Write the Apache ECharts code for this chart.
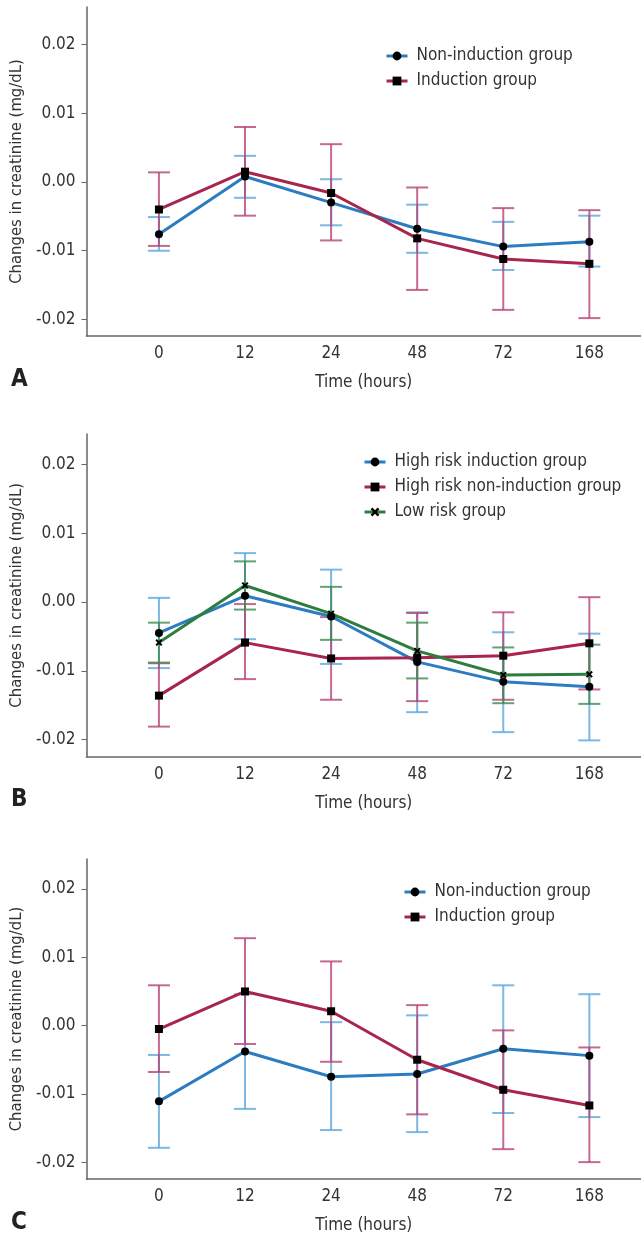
<!DOCTYPE html>
<html><head><meta charset="utf-8">
<script src="https://cdn.jsdelivr.net/npm/echarts@6/dist/echarts.min.js"></script>
<style>html,body{margin:0;padding:0;background:#fff}#c{width:641px;height:1235px}</style>
</head><body><div id="c"></div>
<script>
// ---- data ----
const hours = ['0', '12', '24', '48', '72', '168'];
const yTicks = [-0.02, -0.01, 0, 0.01, 0.02];

// Panel A
const aNonMean = [-0.0076, 0.0008, -0.0030, -0.0068, -0.0094, -0.0087];
const aNonLow  = [-0.0100, -0.0023, -0.0063, -0.0103, -0.0128, -0.0123];
const aNonHigh = [-0.0051, 0.0038, 0.0004, -0.0033, -0.0058, -0.0049];
const aIndMean = [-0.0040, 0.0015, -0.0016, -0.0082, -0.0112, -0.0119];
const aIndLow  = [-0.0093, -0.0049, -0.0085, -0.0157, -0.0186, -0.0198];
const aIndHigh = [0.0014, 0.0080, 0.0055, -0.0008, -0.0038, -0.0041];

// Panel B
const bHiIndMean = [-0.0045, 0.0009, -0.0021, -0.0087, -0.0116, -0.0123];
const bHiIndLow  = [-0.0096, -0.0054, -0.0090, -0.0160, -0.0189, -0.0201];
const bHiIndHigh = [0.0006, 0.0071, 0.0047, -0.0015, -0.0044, -0.0046];
const bHiNonMean = [-0.0136, -0.0059, -0.0082, -0.0081, -0.0078, -0.0060];
const bHiNonLow  = [-0.0181, -0.0112, -0.0142, -0.0144, -0.0142, -0.0127];
const bHiNonHigh = [-0.0089, -0.0003, -0.0022, -0.0016, -0.0015, 0.0007];
const bLowMean = [-0.0059, 0.0024, -0.0017, -0.0071, -0.0106, -0.0105];
const bLowLow  = [-0.0088, -0.0011, -0.0055, -0.0111, -0.0147, -0.0148];
const bLowHigh = [-0.0030, 0.0059, 0.0022, -0.0030, -0.0066, -0.0062];

// Panel C
const cNonMean = [-0.0111, -0.0038, -0.0075, -0.0071, -0.0034, -0.0044];
const cNonLow  = [-0.0179, -0.0122, -0.0153, -0.0156, -0.0128, -0.0134];
const cNonHigh = [-0.0043, 0.0046, 0.0005, 0.0015, 0.0059, 0.0046];
const cIndMean = [-0.0005, 0.0050, 0.0021, -0.0050, -0.0094, -0.0117];
const cIndLow  = [-0.0068, -0.0027, -0.0053, -0.0130, -0.0181, -0.0200];
const cIndHigh = [0.0059, 0.0128, 0.0094, 0.0030, -0.0007, -0.0032];

// ---- styling ----
const FONT = "'Liberation Sans Narrow', 'DejaVu Sans Condensed', 'Roboto', sans-serif";
const TXT = '#333333';
const AX = '#666666';
const BLUE = '#2b7cc0', RED = '#a8254c', GREEN = '#2e7d3f';
const BLUE_E = 'rgba(100,172,222,0.85)', RED_E = 'rgba(182,68,120,0.8)', GREEN_E = 'rgba(60,140,80,0.8)';
const xyPairs = (arr) => arr.map((v, i) => [i, v]);
const errData = (lo, hi) => lo.map((v, i) => [i, v, hi[i]]);

function errRender(color) {
  return function (params, api) {
    const x = api.value(0);
    const pLo = api.coord([x, api.value(1)]);
    const pHi = api.coord([x, api.value(2)]);
    const w = 11;
    const st = { stroke: color, lineWidth: 2 };
    return { type: 'group', children: [
      { type: 'line', shape: { x1: pLo[0], y1: pLo[1], x2: pHi[0], y2: pHi[1] }, style: st },
      { type: 'line', shape: { x1: pLo[0] - w, y1: pLo[1], x2: pLo[0] + w, y2: pLo[1] }, style: st },
      { type: 'line', shape: { x1: pHi[0] - w, y1: pHi[1], x2: pHi[0] + w, y2: pHi[1] }, style: st }
    ]};
  };
}

const grids = [
  { left: 85, width: 556, top: 7, height: 329, ymin: -0.0224, ymax: 0.02545 },
  { left: 85, width: 556, top: 434, height: 322.7, ymin: -0.02247, ymax: 0.0244 },
  { left: 85, width: 556, top: 859, height: 322.7, ymin: -0.02247, ymax: 0.0244 }
];

const legendText = { fontFamily: FONT, fontSize: 17, color: TXT, lineHeight: 20, padding: [0, 0, 0, 4] };
const legendBase = { orient: 'vertical', itemWidth: 21, itemHeight: 11, itemGap: 5,
  textStyle: legendText, lineStyle: { width: 3 } };

const option = {
  animation: false,
  textStyle: { fontFamily: FONT, color: TXT },
  grid: grids.map(g => ({ left: g.left, width: g.width, top: g.top, height: g.height })),
  xAxis: grids.map((g, i) => ({
    type: 'value', gridIndex: i, min: -0.842, max: 5.60,
    name: 'Time (hours)', nameLocation: 'middle', nameGap: 38,
    nameTextStyle: { fontFamily: FONT, fontSize: 17, color: TXT },
    axisLine: { onZero: false, lineStyle: { color: AX, width: 1.5 } },
    axisTick: { show: false },
    splitLine: { show: false },
    axisLabel: { customValues: [0, 1, 2, 3, 4, 5], formatter: v => hours[Math.round(v)],
      fontFamily: FONT, fontSize: 17, color: TXT, margin: 9 }
  })),
  yAxis: grids.map((g, i) => ({
    type: 'value', gridIndex: i, min: g.ymin, max: g.ymax,
    name: 'Changes in creatinine (mg/dL)', nameLocation: 'middle', nameGap: 56,
    nameTextStyle: { fontFamily: FONT, fontSize: 16.5, color: TXT },
    axisLine: { show: true, onZero: false, lineStyle: { color: AX, width: 1.5 } },
    axisTick: { show: true, customValues: yTicks, length: 5, lineStyle: { color: AX } },
    splitLine: { show: false },
    axisLabel: { customValues: yTicks, formatter: v => v.toFixed(2),
      fontFamily: FONT, fontSize: 17, color: TXT, margin: 11 }
  })),
  legend: [
    Object.assign({ data: ['Non-induction group', 'Induction group'], left: 380, top: 41 }, legendBase),
    Object.assign({ data: ['High risk induction group', 'High risk non-induction group', 'Low risk group'], left: 358, top: 447 }, legendBase),
    Object.assign({ data: ['Non-induction group', 'Induction group'], left: 398, top: 877 }, legendBase)
  ],
  graphic: [
    { type: 'text', left: 11, top: 368, style: { text: 'A', font: "bold 24px " + FONT, fill: '#222' } },
    { type: 'text', left: 11, top: 788, style: { text: 'B', font: "bold 24px " + FONT, fill: '#222' } },
    { type: 'text', left: 11, top: 1211, style: { text: 'C', font: "bold 24px " + FONT, fill: '#222' } }
  ],
  series: []
};

function addPanel(idx, groups) {
  groups.forEach(g => {
    option.series.push({ type: 'custom', name: g.name + ' SD', xAxisIndex: idx, yAxisIndex: idx,
      renderItem: errRender(g.err), data: errData(g.low, g.high), encode: { x: 0, y: [1, 2] }, z: 2 });
  });
  groups.forEach(g => {
    option.series.push({ type: 'line', name: g.name, xAxisIndex: idx, yAxisIndex: idx,
      data: xyPairs(g.mean), symbol: g.symbol, symbolSize: g.size,
      lineStyle: { color: g.color, width: 3 }, itemStyle: { color: '#000' }, z: 3 });
  });
}
const XSYM = 'path://M0,2 L2,0 L5,3 L8,0 L10,2 L7,5 L10,8 L8,10 L5,7 L2,10 L0,8 L3,5 Z';
addPanel(0, [
  { name: 'Non-induction group', mean: aNonMean, low: aNonLow, high: aNonHigh, color: BLUE, err: BLUE_E, symbol: 'circle', size: 8 },
  { name: 'Induction group', mean: aIndMean, low: aIndLow, high: aIndHigh, color: RED, err: RED_E, symbol: 'rect', size: 8 }
]);
addPanel(1, [
  { name: 'High risk induction group', mean: bHiIndMean, low: bHiIndLow, high: bHiIndHigh, color: BLUE, err: BLUE_E, symbol: 'circle', size: 8 },
  { name: 'High risk non-induction group', mean: bHiNonMean, low: bHiNonLow, high: bHiNonHigh, color: RED, err: RED_E, symbol: 'rect', size: 8 },
  { name: 'Low risk group', mean: bLowMean, low: bLowLow, high: bLowHigh, color: GREEN, err: GREEN_E, symbol: XSYM, size: 7 }
]);
addPanel(2, [
  { name: 'Non-induction group', mean: cNonMean, low: cNonLow, high: cNonHigh, color: BLUE, err: BLUE_E, symbol: 'circle', size: 8 },
  { name: 'Induction group', mean: cIndMean, low: cIndLow, high: cIndHigh, color: RED, err: RED_E, symbol: 'rect', size: 8 }
]);

const chart = echarts.init(document.getElementById('c'), null, { renderer: 'canvas' });
chart.setOption(option);
</script>
</body></html>
